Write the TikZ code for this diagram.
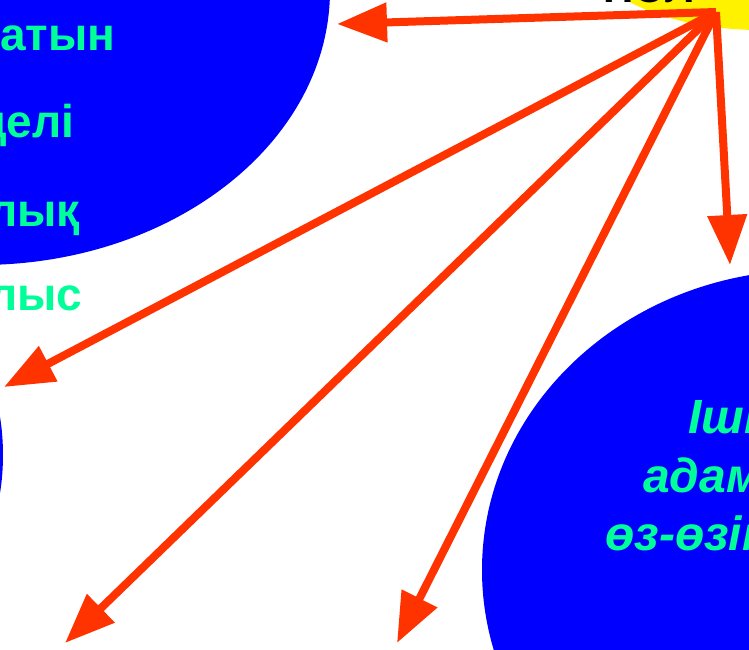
\documentclass[tikz,border=0pt]{standalone}
\usepackage{fontspec}
\setmainfont{Liberation Sans}
\usetikzlibrary{arrows.meta,shapes.geometric}
\definecolor{slideblue}{RGB}{0,0,255}
\definecolor{mint}{RGB}{0,255,153}
\definecolor{fire}{RGB}{255,51,0}

\begin{document}
\begin{tikzpicture}[x=1pt,y=-1pt,
    blob/.style={ellipse, fill=slideblue, inner sep=0pt},
    lefttxt/.style={anchor=base west, inner sep=0pt, text=mint,
        font=\bfseries\fontsize{46}{54}\selectfont},
    righttxt/.style={anchor=base west, inner sep=0pt, text=mint,
        font=\bfseries\itshape\fontsize{48}{56}\selectfont},
    firearrow/.style={color=fire, line width=8pt,
        -{Triangle[length=50pt,width=38pt]}}]
    \useasboundingbox (0,0) rectangle (749,649);
    \clip (0,0) rectangle (749,649);

    \node[blob, minimum width=700pt, minimum height=550pt] (vtop) at (-20,-10) {};
    \node[blob, minimum width=306pt, minimum height=386pt] (vmid) at (-150,455) {};
    \node[blob, minimum width=656pt, minimum height=600pt] (vright) at (810,570) {};
    \node[ellipse, fill=yellow, inner sep=0pt, minimum width=360pt,
        minimum height=180pt] (hub) at (760,-60) {};
    \node[anchor=base west, inner sep=0pt,
        font=\bfseries\fontsize{42}{50}\selectfont] (hubtxt) at (603,2) {НОЛ};

    % left column
    \node[lefttxt] (l1) at (0,50) {атын};
    \node[lefttxt] (l2) at (-22,137) {целі};
    \node[lefttxt] (l3) at (-12,226) {лық};
    \node[lefttxt] (l4) at (-12,310) {лыс};

    % right blob
    \node[righttxt] (r1) at (688,433) {Ішкі};
    \node[righttxt] (r2) at (643,492) {адамның};
    \node[righttxt] (r3) at (605,550) {өз-өзімен};

    \coordinate (src) at (716,12);
    \coordinate (t1) at (337,24);
    \coordinate (t2) at (4,387);
    \coordinate (t3) at (65,643);
    \coordinate (t4) at (397,643);
    \coordinate (t5) at (730,265);

    \path
        (src) edge[firearrow] (t1)
        (src) edge[firearrow] (t2)
        (src) edge[firearrow] (t3)
        (src) edge[firearrow] (t4)
        (src) edge[firearrow] (t5)
    ;
\end{tikzpicture}
\end{document}
